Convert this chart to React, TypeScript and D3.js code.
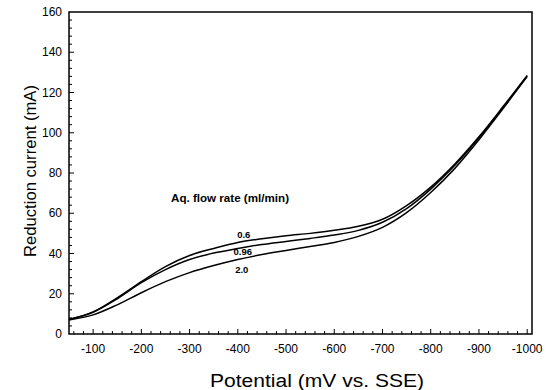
import { useRef, useEffect } from 'react'
import * as d3 from 'd3'

const potentials = [-50, -100, -150, -200, -250, -300, -350, -400, -450, -500, -550, -600, -650, -700, -750, -800, -850, -900, -950, -1000]
const flow06 = [7.2, 11, 18, 26, 33.5, 39, 42.5, 45.5, 47.3, 48.8, 50, 51.5, 53.5, 57, 63.8, 73, 84.5, 98, 113, 128.5]
const flow096 = [7.2, 10.8, 17.5, 25.5, 32, 37, 40.2, 42.5, 44.5, 46, 47.5, 49.2, 51.5, 55.5, 62.3, 72, 83.8, 97.5, 112.5, 128]
const flow20 = [7, 9.5, 14.5, 20.5, 26, 30.5, 34, 37, 39.5, 41.5, 43.5, 45.5, 48.5, 53, 60.3, 70.3, 82.3, 96.5, 112, 128]

const xTicks = [-100, -200, -300, -400, -500, -600, -700, -800, -900, -1000]
const yTicks = [0, 20, 40, 60, 80, 100, 120, 140, 160]

const series = [
  { label: '0.6', values: flow06, at: -400, dx: 1, dy: -4.5 },
  { label: '0.96', values: flow096, at: -400, dx: 0, dy: 6.5 },
  { label: '2.0', values: flow20, at: -400, dx: -1, dy: 13.5 },
]

const W = 549
const H = 390

export default function App() {
  const svgRef = useRef<SVGSVGElement>(null)

  useEffect(() => {
    if (!svgRef.current) return
    const svg = d3.select(svgRef.current)
    svg.selectAll('*').remove()

    const left = 69, right = 532, top = 12, bottom = 334
    const x = d3.scaleLinear().domain([-50, -1010]).range([left, right])
    const y = d3.scaleLinear().domain([0, 160]).range([bottom, top])
    const font = 'Liberation Sans, Arial, Helvetica, sans-serif'

    // frame
    svg.append('rect')
      .attr('x', left).attr('y', top)
      .attr('width', right - left).attr('height', bottom - top)
      .attr('fill', 'none').attr('stroke', '#000').attr('stroke-width', 1.5)

    // x ticks (inward)
    const xMinor = d3.range(-60, -1001, -20)
    svg.selectAll('.xt')
      .data(xMinor)
      .join('line')
      .attr('x1', d => x(d)).attr('x2', d => x(d))
      .attr('y1', bottom).attr('y2', d => bottom - (d % 100 === 0 ? 5 : 3))
      .attr('stroke', '#000').attr('stroke-width', 1)

    svg.selectAll('.xl')
      .data(xTicks)
      .join('text')
      .attr('x', d => x(d)).attr('y', 353)
      .attr('text-anchor', 'middle')
      .attr('font-family', font).attr('font-size', 12)
      .text(d => String(d))

    // y ticks (inward)
    const yMinor = d3.range(4, 160, 4)
    svg.selectAll('.yt')
      .data(yMinor)
      .join('line')
      .attr('x1', left).attr('x2', d => left + (d % 20 === 0 ? 5 : 3))
      .attr('y1', d => y(d)).attr('y2', d => y(d))
      .attr('stroke', '#000').attr('stroke-width', 1)

    svg.selectAll('.yl')
      .data(yTicks)
      .join('text')
      .attr('x', 62).attr('y', d => y(d) + 4)
      .attr('text-anchor', 'end')
      .attr('font-family', font).attr('font-size', 12)
      .text(d => String(d))

    // curves
    const line = d3.line<number>()
      .x((_, i) => x(potentials[i]))
      .y(d => y(d))
      .curve(d3.curveCatmullRom)

    series.forEach(s => {
      svg.append('path')
        .attr('d', line(s.values))
        .attr('fill', 'none').attr('stroke', '#000').attr('stroke-width', 1.5)
      const i = potentials.indexOf(s.at)
      svg.append('text')
        .attr('x', x(s.at) + 5 + s.dx).attr('y', y(s.values[i]) + s.dy)
        .attr('text-anchor', 'middle')
        .attr('font-family', font).attr('font-size', 9.5).attr('font-weight', 'bold')
        .text(s.label)
    })

    svg.append('text')
      .attr('x', 171).attr('y', 202)
      .attr('font-family', font).attr('font-size', 10).attr('font-weight', 'bold')
      .attr('textLength', 118).attr('lengthAdjust', 'spacingAndGlyphs')
      .text('Aq. flow rate (ml/min)')

    // axis titles
    svg.append('text')
      .attr('x', 210).attr('y', 387)
      .attr('font-family', font).attr('font-size', 18)
      .attr('textLength', 214).attr('lengthAdjust', 'spacingAndGlyphs')
      .text('Potential (mV vs. SSE)')

    svg.append('text')
      .attr('transform', 'translate(36,257) rotate(-90)')
      .attr('font-family', font).attr('font-size', 17)
      .attr('textLength', 172).attr('lengthAdjust', 'spacingAndGlyphs')
      .text('Reduction current (mA)')
  }, [])

  return (
    <div style={{ position: 'absolute', left: 0, top: 0, width: W, height: H, background: '#fff' }}>
      <svg ref={svgRef} width={W} height={H} />
    </div>
  )
}
